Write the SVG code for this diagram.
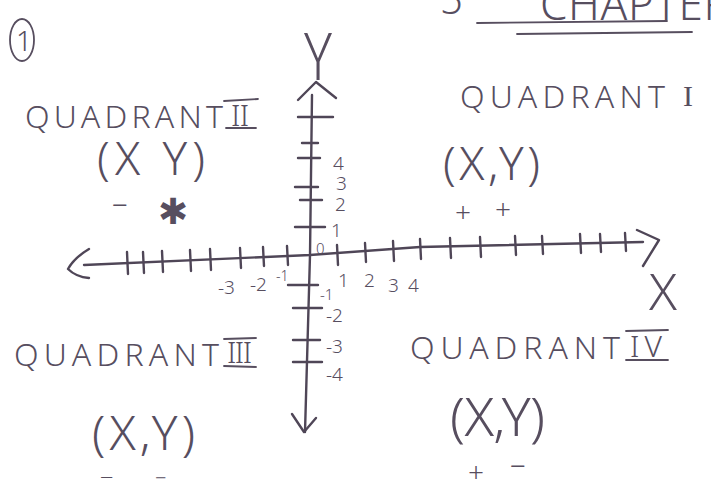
<svg xmlns="http://www.w3.org/2000/svg" width="711" height="491" viewBox="0 0 711 491">
<style>
.ink{fill:#574e5f;font-family:"Noto Sans","Liberation Sans",Arial,sans-serif;font-weight:300}
.ln{stroke:#4f4657;stroke-width:2.4;fill:none;stroke-linecap:round;stroke-linejoin:round}
.thin{stroke:#574e5f;stroke-width:1.8;fill:none;stroke-linecap:round}
.q{font-size:32px}
.p{font-size:46px}
.s{font-size:28px}
.t{font-size:19px}
</style>
<rect width="711" height="491" fill="#ffffff"/>
<g id="header">
<ellipse cx="22" cy="40" rx="12" ry="21" class="thin"/>
<text x="16" y="51" class="ink" style="font-size:28px">1</text>
<text x="440" y="14" class="ink" style="font-size:40px">5</text>
<text x="540" y="20" class="ink" style="font-size:44px" textLength="190" lengthAdjust="spacing">CHAPTER</text>
<path d="M477,23 L667,21" class="thin"/>
<path d="M517,34 L692,32" class="thin"/>
</g>
<g id="axes">
<path d="M84,265 L310,255 L420,247 L643,242" class="ln"/>
<path d="M89,249 Q74,258 68,269 Q76,277 89,278" class="ln"/>
<path d="M637,230 L659,240 L643,266" class="ln"/>
<path d="M312,95 L310,255 L305,432" class="ln"/>
<path d="M292,414 L304,432 L316,418" class="ln"/>
<path d="M298,100 L316,82 L336,98" class="ln"/>
<text x="304" y="80" class="ink" style="font-size:66px" textLength="28" lengthAdjust="spacingAndGlyphs">Y</text>
<text x="649" y="310" class="ink" style="font-size:50px" textLength="28" lengthAdjust="spacingAndGlyphs">X</text>
</g>
<g id="ticks" class="ln">
<path d="M298,117 L333,117 M302,143 L318,143 M298,158 L320,158 M295,187 L318,187 M300,200 L322,200 M295,227 L325,227 M288,285 L318,285 M293,308 L322,308 M293,340 L320,340 M293,362 L322,362"/>
<path d="M127,252 L128,274 M143,252 L144,273 M162,251 L163,272 M190,250 L191,271 M210,249 L211,270 M240,248 L241,268 M263,247 L264,266 M287,246 L288,265"/>
<path d="M337,245 L338,265 M365,243 L366,262 M393,241 L394,261 M420,239 L421,259 M450,238 L451,258 M480,237 L481,257 M515,236 L516,255 M542,236 L543,254 M580,234 L581,253 M600,234 L601,252 M625,233 L626,251"/>
</g>
<g id="tick-labels" class="ink t">
<text x="333" y="170">4</text>
<text x="336" y="190">3</text>
<text x="335" y="211">2</text>
<text x="331" y="237">1</text>
<text x="316" y="254" style="font-size:15px">0</text>
<text x="218" y="294">-3</text>
<text x="250" y="291">-2</text>
<text x="276" y="281" style="font-size:14px">-1</text>
<text x="338" y="287">1</text>
<text x="364" y="287">2</text>
<text x="388" y="292">3</text>
<text x="408" y="292">4</text>
<text x="320" y="300" style="font-size:15px">-1</text>
<text x="326" y="322">-2</text>
<text x="326" y="353">-3</text>
<text x="326" y="381">-4</text>
</g>
<g id="quadrant-2">
<text x="25" y="128" class="ink q" textLength="198" lengthAdjust="spacing">QUADRANT</text>
<text x="231" y="126" class="ink" style="font-size:30px" textLength="18" lengthAdjust="spacing">II</text>
<path d="M224,101 L258,99 M226,128 L256,128" class="thin"/>
<text x="97" y="175" class="ink p" textLength="108" lengthAdjust="spacing">(X Y)</text>
<text x="112" y="215" class="ink s">−</text>
<text x="158" y="224" class="ink" style="font-size:36px;font-family:'DejaVu Sans',sans-serif">✱</text>
</g>
<g id="quadrant-1">
<text x="460" y="108" class="ink q" textLength="205" lengthAdjust="spacing">QUADRANT</text>
<text x="683" y="106" class="ink" style="font-size:30px;font-family:'Liberation Serif',serif">I</text>
<text x="443" y="180" class="ink p" textLength="97" lengthAdjust="spacing">(X,Y)</text>
<text x="455" y="222" class="ink s">+</text>
<text x="495" y="219" class="ink s">+</text>
</g>
<g id="quadrant-3">
<text x="14" y="366" class="ink q" textLength="205" lengthAdjust="spacing">QUADRANT</text>
<text x="227" y="363" class="ink" style="font-size:30px" textLength="25" lengthAdjust="spacing">III</text>
<path d="M224,339 L256,338 M224,366 L256,367" class="thin"/>
<text x="92" y="450" class="ink" style="font-size:48px" textLength="103" lengthAdjust="spacing">(X,Y)</text>
<text x="100" y="486" class="ink" style="font-size:24px">−</text>
<text x="155" y="485" class="ink" style="font-size:20px">−</text>
</g>
<g id="quadrant-4">
<text x="450" y="436" class="ink" style="font-size:54px" textLength="95" lengthAdjust="spacing">(X,Y)</text>
<text x="410" y="359" class="ink q" textLength="210" lengthAdjust="spacing">QUADRANT</text>
<text x="630" y="357" class="ink" style="font-size:30px" textLength="32" lengthAdjust="spacing">IV</text>
<path d="M626,331 L668,330 M626,360 L668,360" class="thin"/>
<text x="468" y="482" class="ink s">+</text>
<text x="510" y="476" class="ink s">−</text>
</g>
</svg>
